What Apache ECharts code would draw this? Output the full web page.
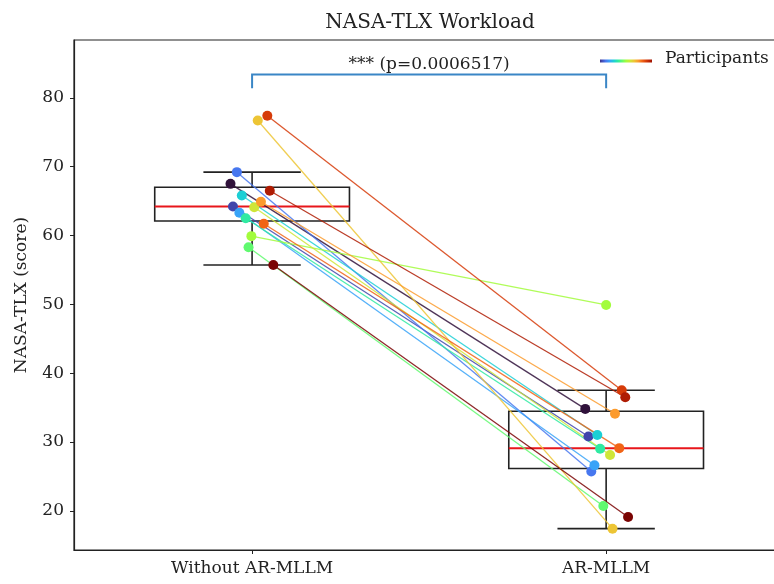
<!DOCTYPE html>
<html>
<head>
<meta charset="utf-8">
<script src="https://cdn.jsdelivr.net/npm/echarts@6/dist/echarts.min.js"></script>
<style>
  html, body { margin: 0; padding: 0; background: #fff; }
  #chart { width: 774px; height: 584px; }
</style>
</head>
<body>
<div id="chart"></div>
<script>
// NASA-TLX score of each participant, same order in both conditions
const conditions = ['Without AR-MLLM', 'AR-MLLM'];
const withoutScores = [67.5, 64.2, 69.2, 63.3, 65.8, 62.5, 58.3, 59.9, 64.1, 76.7, 64.9, 61.7, 77.4, 66.5, 55.7];
const withScores = [34.8, 30.8, 25.7, 26.6, 31.0, 29.0, 20.7, 49.9, 28.1, 17.4, 34.1, 29.1, 37.5, 36.5, 19.1];
// horizontal jitter of the dots (category units)
const jitterWithout = [-0.061, -0.054, -0.043, -0.036, -0.029, -0.018, -0.010, -0.002, 0.006, 0.016, 0.025, 0.033, 0.043, 0.050, 0.060];
const jitterWith = [-0.059, -0.050, -0.042, -0.033, -0.025, -0.017, -0.008, 0.000, 0.011, 0.018, 0.025, 0.037, 0.044, 0.054, 0.062];
const yTicks = [20, 30, 40, 50, 60, 70, 80];
const pLabel = '*** (p=0.0006517)';
const bracketY = [81.4, 83.4];

// turbo colormap, one colour per participant
const turbo = ['#30123b', '#4145ab', '#4777ef', '#38a3f8', '#1ccfd5', '#2feaa2', '#60f96f', '#a2fc3c',
  '#cfe638', '#edc535', '#fc9b2d', '#f16416', '#d63b09', '#af1c03', '#7a0403'];

const font = 'DejaVu Serif';

function quantile(arr, q) {
  const s = arr.slice().sort((a, b) => a - b);
  const pos = (s.length - 1) * q, lo = Math.floor(pos), hi = Math.ceil(pos);
  return s[lo] + (s[hi] - s[lo]) * (pos - lo);
}
function boxStats(arr) {
  const q1 = quantile(arr, 0.25), med = quantile(arr, 0.5), q3 = quantile(arr, 0.75);
  const iqr = q3 - q1;
  const inside = arr.filter(v => v >= q1 - 1.5 * iqr && v <= q3 + 1.5 * iqr);
  return [Math.min(...inside), q1, med, q3, Math.max(...inside)];
}

const boxData = [[0].concat(boxStats(withoutScores)), [1].concat(boxStats(withScores))];

const chart = echarts.init(document.getElementById('chart'));

const participantSeries = withoutScores.map((v, i) => ({
  type: 'line',
  z: 3,
  data: [[jitterWithout[i], v], [1 + jitterWith[i], withScores[i]]],
  symbol: 'circle',
  symbolSize: 10,
  color: turbo[i],
  itemStyle: { color: turbo[i], opacity: 1 },
  lineStyle: { color: turbo[i], width: 1.3, opacity: 0.85 },
  silent: true
}));

chart.setOption({
  animation: false,
  backgroundColor: '#fff',
  textStyle: { fontFamily: font },
  title: {
    text: 'NASA-TLX Workload',
    left: 425,
    top: 8,
    textAlign: 'center',
    textStyle: { fontFamily: font, fontSize: 20, fontWeight: 'normal', color: '#222' }
  },
  grid: {
    left: 74, top: 40, width: 712, height: 510,
    outerBoundsMode: 'none',
    containLabel: false,
    show: true, borderColor: '#222', borderWidth: 1.2
  },
  xAxis: {
    type: 'value',
    min: -0.503, max: 1.508,
    splitLine: { show: false },
    axisLine: { show: true, onZero: false, lineStyle: { color: '#222', width: 1.2 } },
    axisTick: { show: true, customValues: [0, 1], length: 4, inside: false, lineStyle: { color: '#222' } },
    axisLabel: {
      customValues: [0, 1],
      formatter: v => conditions[Math.round(v)],
      color: '#222', fontFamily: font, fontSize: 17, margin: 10
    }
  },
  yAxis: {
    type: 'value',
    min: 14.3, max: 88.4,
    name: 'NASA-TLX (score)',
    nameLocation: 'middle',
    nameGap: 44,
    nameTextStyle: { fontFamily: font, fontSize: 17, color: '#222' },
    splitLine: { show: false },
    axisLine: { show: true, onZero: false, lineStyle: { color: '#222', width: 1.2 } },
    axisTick: { show: true, customValues: yTicks, length: 4, lineStyle: { color: '#222' } },
    axisLabel: { customValues: yTicks, color: '#222', fontFamily: font, fontSize: 17, margin: 10 }
  },
  graphic: [
    {
      type: 'line',
      shape: { x1: 600, y1: 61, x2: 652, y2: 61 },
      style: {
        lineWidth: 3,
        stroke: new echarts.graphic.LinearGradient(0, 0, 1, 0,
          turbo.map((c, i) => ({ offset: i / (turbo.length - 1), color: c })))
      }
    },
    {
      type: 'text',
      left: 665, top: 50,
      style: { text: 'Participants', fontFamily: font, fontSize: 17, fill: '#222' }
    }
  ],
  series: [
    {
      type: 'custom',
      z: 1,
      silent: true,
      data: boxData,
      renderItem: function (params, api) {
        const x = api.value(0);
        const lo = api.coord([x, api.value(1)]);
        const q1 = api.coord([x, api.value(2)]);
        const md = api.coord([x, api.value(3)]);
        const q3 = api.coord([x, api.value(4)]);
        const hi = api.coord([x, api.value(5)]);
        const cx = lo[0];
        const half = api.size([0.55, 0])[0] / 2;
        const cap = half / 2;
        const black = { stroke: '#222', lineWidth: 1.6, fill: null };
        return {
          type: 'group',
          children: [
            { type: 'line', shape: { x1: cx, y1: q1[1], x2: cx, y2: lo[1] }, style: black },
            { type: 'line', shape: { x1: cx, y1: q3[1], x2: cx, y2: hi[1] }, style: black },
            { type: 'line', shape: { x1: cx - cap, y1: lo[1], x2: cx + cap, y2: lo[1] }, style: black },
            { type: 'line', shape: { x1: cx - cap, y1: hi[1], x2: cx + cap, y2: hi[1] }, style: black },
            { type: 'rect', shape: { x: cx - half, y: q3[1], width: 2 * half, height: q1[1] - q3[1] }, style: black },
            { type: 'line', shape: { x1: cx - half, y1: md[1], x2: cx + half, y2: md[1] }, style: { stroke: '#e8161b', lineWidth: 2 } }
          ]
        };
      }
    },
    {
      type: 'custom',
      z: 2,
      silent: true,
      data: [[0, 1, bracketY[0], bracketY[1]]],
      renderItem: function (params, api) {
        const a = api.coord([api.value(0), api.value(2)]);
        const b = api.coord([api.value(0), api.value(3)]);
        const c = api.coord([api.value(1), api.value(3)]);
        const d = api.coord([api.value(1), api.value(2)]);
        return {
          type: 'group',
          children: [
            { type: 'polyline', shape: { points: [a, b, c, d] }, style: { stroke: '#3a86c6', lineWidth: 2, fill: null } },
            {
              type: 'text',
              x: (b[0] + c[0]) / 2, y: b[1] - 1,
              style: { text: pLabel, fontFamily: font, fontSize: 17, fill: '#222', align: 'center', verticalAlign: 'bottom' }
            }
          ]
        };
      }
    }
  ].concat(participantSeries)
});
</script>
</body>
</html>
